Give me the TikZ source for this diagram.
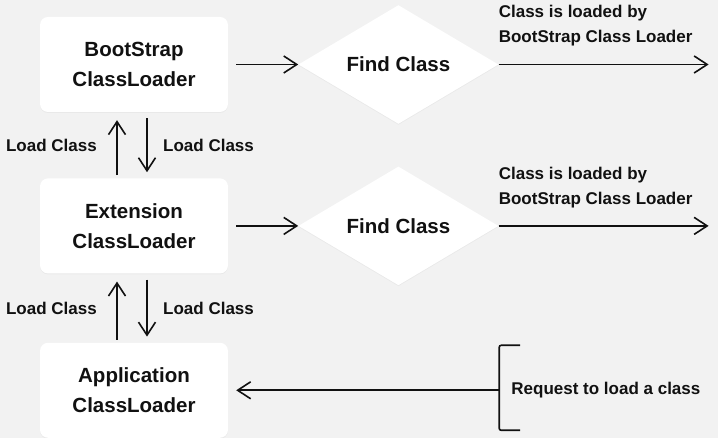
\documentclass[tikz,border=0pt]{standalone}
\usepackage{fontspec}
\setmainfont{Liberation Sans}
\usetikzlibrary{positioning, calc, shapes.geometric, arrows.meta, shadows}
\definecolor{pagegray}{RGB}{242,242,242}
\definecolor{inkblack}{RGB}{17,17,17}

\tikzset{
    loaderbox/.style={
        fill=white,
        rounded corners=8pt,
        minimum width=188pt,
        minimum height=95pt,
        align=center,
        text=inkblack,
        font=\fontsize{20.5}{30}\selectfont\bfseries,
        drop shadow={shadow xshift=0pt, shadow yshift=-1pt, opacity=0.07}
    },
    findbox/.style={
        diamond,
        fill=white,
        minimum width=200pt,
        minimum height=110pt,
        inner sep=0pt,
        text=inkblack,
        font=\fontsize{20.5}{24}\selectfont\bfseries,
        drop shadow={shadow xshift=0pt, shadow yshift=-1pt, opacity=0.07}
    },
    flow/.style={draw=inkblack, line width=1.6pt, -{Straight Barb[length=13pt,width=17pt]}},
    lbl/.style={inner sep=0pt, align=left, text=inkblack, font=\fontsize{17}{25}\selectfont\bfseries}
}

\begin{document}
\begin{tikzpicture}
    % page
    \fill[pagegray] (0,0) rectangle (718pt,438pt);
    \useasboundingbox (0,0) rectangle (718pt,438pt);

    % loaders
    \node[loaderbox] (boot) at (134pt,373.5pt) {BootStrap\\ClassLoader};
    \node[loaderbox, below=66pt of boot] (ext) {Extension\\ClassLoader};
    \node[loaderbox, below=69pt of ext] (app) {Application\\ClassLoader};

    % find class
    \node[findbox, right=70pt of boot] (findA) {Find Class};
    \node[findbox, right=70pt of ext] (findB) {Find Class};

    \draw[flow, shorten <=8pt] (boot) -- (findA);
    \draw[flow, shorten <=8pt] (ext) -- (findB);

    \coordinate (outA) at ([xshift=210pt]findA.east);
    \coordinate (outB) at ([xshift=210pt]findB.east);
    \draw[flow] (findA) -- (outA);
    \draw[flow] (findB) -- (outB);
    \node[lbl, anchor=south west] (noteA) at ([yshift=18pt]findA.east) {Class is loaded by\\BootStrap Class Loader};
    \node[lbl, anchor=south west] (noteB) at ([yshift=18pt]findB.east) {Class is loaded by\\BootStrap Class Loader};

    % delegation
    \draw[flow, shorten <=3pt, shorten >=8pt] ([xshift=-17pt]ext.north) -- ([xshift=-17pt]boot.south);
    \draw[flow, shorten <=6pt, shorten >=6pt] ([xshift=13pt]boot.south) -- ([xshift=13pt]ext.north);
    \draw[flow, shorten <=3pt, shorten >=8pt] ([xshift=-17pt]app.north) -- ([xshift=-17pt]ext.south);
    \draw[flow, shorten <=6pt, shorten >=6pt] ([xshift=13pt]ext.south) -- ([xshift=13pt]app.north);

    \path (boot.south) -- (ext.north) coordinate[midway] (midA);
    \path (ext.south) -- (app.north) coordinate[midway] (midB);
    \node[lbl, left=37pt of midA] (upA) {Load Class};
    \node[lbl, right=29pt of midA] (downA) {Load Class};
    \node[lbl, left=37pt of midB] (upB) {Load Class};
    \node[lbl, right=29pt of midB] (downB) {Load Class};

    % request
    \node[lbl, right=283pt of app] (req) {Request to load a class};
    \coordinate (brk) at ([xshift=-12pt]req.west);
    \draw[inkblack, line width=1.6pt, rounded corners=2pt]
        ($(brk)+(21pt,45pt)$) -- ($(brk)+(0,45pt)$) -- ($(brk)+(0,-40pt)$) -- ($(brk)+(21pt,-40pt)$);
    \draw[flow, shorten >=8pt] (brk) -- (app);
\end{tikzpicture}
\end{document}
